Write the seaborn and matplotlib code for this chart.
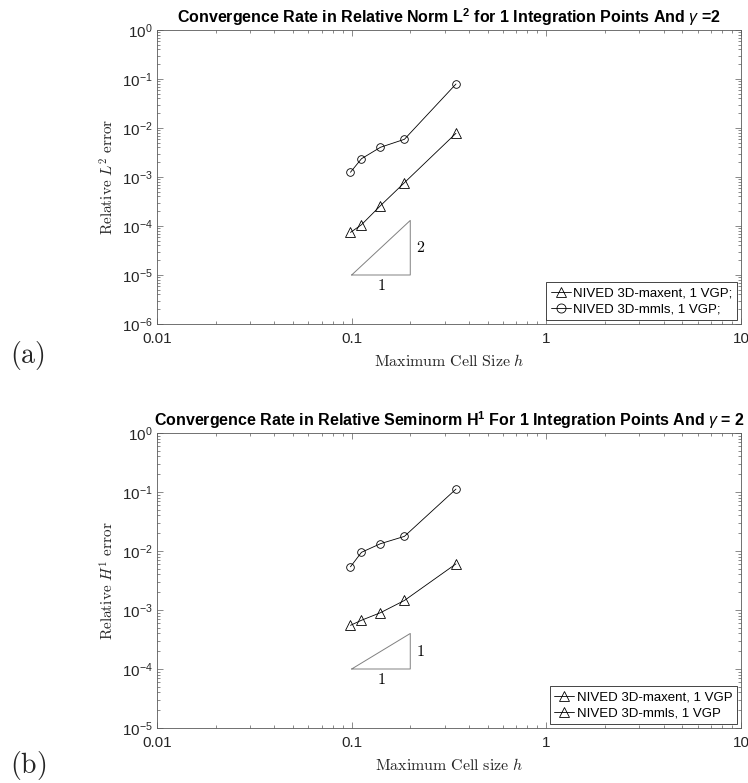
import matplotlib
matplotlib.use("Agg")
import matplotlib.pyplot as plt
from matplotlib.lines import Line2D
from matplotlib.ticker import LogLocator, FixedLocator, FuncFormatter, NullFormatter
import numpy as np
import pandas as pd
import seaborn as sns

# Mesh sizes (maximum cell size h)
h = [0.0986, 0.1123, 0.1406, 0.1866, 0.3434]

# Relative L2 errors
l2_maxent = [7.4e-5, 1.06e-4, 2.6e-4, 7.65e-4, 7.8e-3]
l2_mmls = [1.25e-3, 2.36e-3, 4.04e-3, 5.88e-3, 7.9e-2]

# Relative H1 seminorm errors
h1_maxent = [5.5e-4, 6.7e-4, 9.0e-4, 1.45e-3, 6.05e-3]
h1_mmls = [5.4e-3, 9.5e-3, 1.33e-2, 1.77e-2, 0.112]

# Legend entries
l2_labels = ["NIVED 3D-maxent, 1 VGP;", "NIVED 3D-mmls, 1 VGP;"]
h1_labels = ["NIVED 3D-maxent, 1 VGP", "NIVED 3D-mmls, 1 VGP"]

# Reference slope triangles: (x0, x1), (y_base, y_top), slope label
tri_l2_x = [0.1, 0.2]
tri_l2_y = [1e-5, 1.3e-4]
tri_l2_label = "2"
tri_h1_x = [0.1, 0.2]
tri_h1_y = [1e-4, 4e-4]
tri_h1_label = "1"

x_ticks = [0.01, 0.1, 1, 10]

sns.set_style("ticks")
plt.rcParams["font.family"] = ["Liberation Sans", "DejaVu Sans"]
plt.rcParams["mathtext.fontset"] = "custom"
plt.rcParams["mathtext.rm"] = "Liberation Sans"
plt.rcParams["mathtext.it"] = "Liberation Sans:italic"
plt.rcParams["mathtext.bf"] = "Liberation Sans:bold"

AX_COLOR = "#262626"
SPINE_COLOR = "#5a5a5a"

fig = plt.figure(figsize=(7.48, 7.83), dpi=100)
W, H = 748, 783


def px_axes(left, top, right, bottom):
    return fig.add_axes([left / W, 1 - bottom / H, (right - left) / W, (bottom - top) / H])


ax_a = px_axes(157, 30, 741, 324)
ax_b = px_axes(157, 433, 741, 728)


def style_axes(ax, ymin):
    ax.set_xscale("log")
    ax.set_yscale("log")
    ax.set_xlim(0.01, 10)
    ax.set_ylim(ymin, 1)
    ax.xaxis.set_major_locator(FixedLocator(x_ticks))
    ax.xaxis.set_major_formatter(FuncFormatter(lambda v, _: f"{v:g}"))
    ax.xaxis.set_minor_locator(LogLocator(base=10, subs=np.arange(2, 10), numticks=50))
    ax.xaxis.set_minor_formatter(NullFormatter())
    ax.yaxis.set_major_locator(LogLocator(base=10, numticks=50))
    ax.yaxis.set_minor_locator(LogLocator(base=10, subs=np.arange(2, 10), numticks=50))
    ax.yaxis.set_minor_formatter(NullFormatter())
    ax.tick_params(which="both", direction="in", top=True, right=True,
                   colors=SPINE_COLOR, labelcolor=AX_COLOR, labelsize=11, width=0.5)
    ax.tick_params(which="major", length=4.5)
    ax.tick_params(which="minor", length=2.5)
    ax.tick_params(axis="x", which="major", pad=6)
    ax.tick_params(axis="y", which="major", pad=3)
    for s in ax.spines.values():
        s.set_color(SPINE_COLOR)
        s.set_linewidth(0.6)
    ax.grid(False)


def draw_series(ax, y, marker, ms):
    df = pd.DataFrame({"h": h, "err": y})
    sns.lineplot(data=df, x="h", y="err", ax=ax, color="black", linewidth=0.6,
                 marker=marker, markersize=ms, markerfacecolor="none",
                 markeredgecolor="black", markeredgewidth=0.6, legend=False)


def draw_triangle(ax, xs, ys, label):
    tx = [xs[0], xs[1], xs[1], xs[0]]
    ty = [ys[0], ys[0], ys[1], ys[0]]
    ax.plot(tx, ty, color="#808080", linewidth=0.7)
    ax.annotate(r"$\mathrm{%s}$" % label, xy=(xs[1], np.sqrt(ys[0] * ys[1])),
                xytext=(4, 0), textcoords="offset points", ha="left", va="center",
                fontsize=11.5, math_fontfamily="cm", color="black")
    ax.annotate(r"$\mathrm{1}$", xy=(np.sqrt(xs[0] * xs[1]), ys[0]),
                xytext=(0, -2), textcoords="offset points", ha="center", va="top",
                fontsize=11.5, math_fontfamily="cm", color="black")


def add_legend(ax, labels, markers):
    handles = [Line2D([], [], color="black", linewidth=0.6, marker=m, markersize=6.5,
                      markerfacecolor="none", markeredgecolor="black",
                      markeredgewidth=0.6) for m in markers]
    leg = ax.legend(handles, labels, loc="lower right", fontsize=9.5, frameon=True,
                    fancybox=False, framealpha=1, edgecolor=AX_COLOR, borderpad=0.35,
                    labelspacing=0.3, handlelength=1.5, handletextpad=0.2,
                    borderaxespad=0.3)
    leg.get_frame().set_linewidth(0.6)
    for t in leg.get_texts():
        t.set_color("black")


# Panel (a): relative L2 norm
style_axes(ax_a, 1e-6)
draw_series(ax_a, l2_maxent, "^", 6.5)
draw_series(ax_a, l2_mmls, "o", 5.5)
draw_triangle(ax_a, tri_l2_x, tri_l2_y, tri_l2_label)
ax_a.set_title(r"Convergence Rate in Relative Norm $\mathbf{L^2}$ for 1 Integration Points And $\gamma$ =2",
               fontsize=11.5, fontweight="bold", color="black", pad=5)
ax_a.set_xlabel(r"$\mathrm{Maximum\ Cell\ Size}\ h$", math_fontfamily="cm",
                fontsize=11.5, color=AX_COLOR, labelpad=5)
ax_a.set_ylabel(r"$\mathrm{Relative}\ L^2\ \mathrm{error}$", math_fontfamily="cm",
                fontsize=11, color=AX_COLOR, labelpad=4)
add_legend(ax_a, l2_labels, ["^", "o"])

# Panel (b): relative H1 seminorm
style_axes(ax_b, 1e-5)
draw_series(ax_b, h1_maxent, "^", 6.5)
draw_series(ax_b, h1_mmls, "o", 5.5)
draw_triangle(ax_b, tri_h1_x, tri_h1_y, tri_h1_label)
ax_b.set_title(r"Convergence Rate in Relative Seminorm $\mathbf{H^1}$ For 1 Integration Points And $\gamma$ = 2",
               fontsize=11.5, fontweight="bold", color="black", pad=5)
ax_b.set_xlabel(r"$\mathrm{Maximum\ Cell\ size}\ h$", math_fontfamily="cm",
                fontsize=11.5, color=AX_COLOR, labelpad=5)
ax_b.set_ylabel(r"$\mathrm{Relative}\ H^1\ \mathrm{error}$", math_fontfamily="cm",
                fontsize=11, color=AX_COLOR, labelpad=4)
add_legend(ax_b, h1_labels, ["^", "^"])

fig.text(10 / W, 1 - 356 / H, r"$\mathrm{(a)}$", math_fontfamily="cm", fontsize=20,
         ha="left", va="center")
fig.text(10 / W, 1 - 766 / H, r"$\mathrm{(b)}$", math_fontfamily="cm", fontsize=20,
         ha="left", va="center")

fig.savefig("out.png", dpi=100)
